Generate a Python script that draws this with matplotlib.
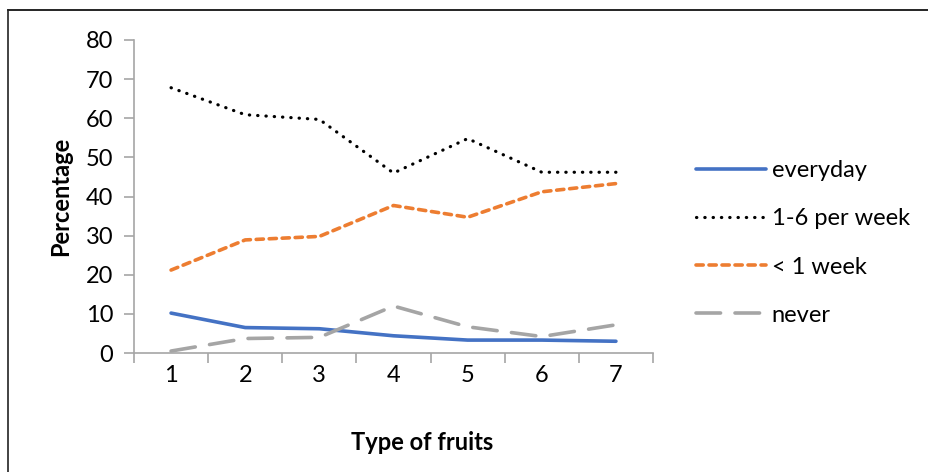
import numpy as np
import matplotlib.pyplot as plt
from matplotlib.lines import Line2D

plt.rcParams['font.family'] = ['Lato', 'DejaVu Sans']

fruit_types = [1, 2, 3, 4, 5, 6, 7]
everyday = [10.2, 6.5, 6.2, 4.4, 3.3, 3.3, 3.0]
per_week_1_6 = [67.8, 60.9, 59.7, 46.0, 54.8, 46.2, 46.2]
less_1_week = [21.2, 28.9, 29.8, 37.7, 34.7, 41.2, 43.3]
never = [0.5, 3.7, 4.0, 12.0, 6.7, 4.2, 7.2]
y_ticks = [0, 10, 20, 30, 40, 50, 60, 70, 80]

fs = 17

fig = plt.figure(figsize=(9.29, 4.72), dpi=100)
ax = fig.add_axes([134 / 929, 1 - 353 / 472, (653 - 134) / 929, (353 - 40) / 472])

ax.plot(fruit_types, everyday, color='#4472C4', lw=2.6, solid_capstyle='round', label='everyday')
ax.plot(fruit_types, per_week_1_6, color='black', lw=2.3, linestyle=(0, (0.1, 2.5)),
        dash_capstyle='round', label='1-6 per week')
ax.plot(fruit_types, less_1_week, color='#ED7D31', lw=2.6, linestyle=(0, (2.0, 1.6)),
        dash_capstyle='round', label='< 1 week')
ax.plot(fruit_types, never, color='#A5A5A5', lw=2.6, linestyle=(0, (6.8, 4.0)),
        dash_capstyle='round', label='never')

ax.set_xlim(0.5, 7.5)
ax.set_ylim(0, 80)
ax.set_yticks(y_ticks)
ax.set_xticks(np.arange(0.5, 8, 1))
ax.set_xticklabels([])
ax.set_xticks(fruit_types, minor=True)
ax.set_xticklabels([str(v) for v in fruit_types], minor=True)
ax.tick_params(axis='x', which='major', length=7, color='#A6A6A6', width=1.2)
ax.tick_params(axis='x', which='minor', length=0, labelsize=fs, pad=9)
ax.tick_params(axis='y', length=7, color='#A6A6A6', width=1.2, labelsize=fs, pad=8)

for s in ['top', 'right']:
    ax.spines[s].set_visible(False)
for s in ['left', 'bottom']:
    ax.spines[s].set_color('#A6A6A6')
    ax.spines[s].set_linewidth(1.2)

ax.set_ylabel('Percentage', fontsize=fs, fontweight='bold', labelpad=10)
fig.text(422 / 929, 1 - 442 / 472, 'Type of fruits', fontsize=fs, fontweight='bold',
         ha='center', va='center')

ax.legend(loc='center left', bbox_to_anchor=(675 / 929, 1 - 243 / 472),
          bbox_transform=fig.transFigure, frameon=False, fontsize=fs,
          handlelength=2.95, handletextpad=0.25, labelspacing=1.15)

# frame lines (top and left only)
fig.add_artist(Line2D([8 / 929, 1], [1 - 10 / 472, 1 - 10 / 472], color='black', lw=1.2,
                      transform=fig.transFigure))
fig.add_artist(Line2D([8 / 929, 8 / 929], [0, 1 - 10 / 472], color='#222222', lw=1.2,
                      transform=fig.transFigure))

fig.savefig('out.png', dpi=100)
